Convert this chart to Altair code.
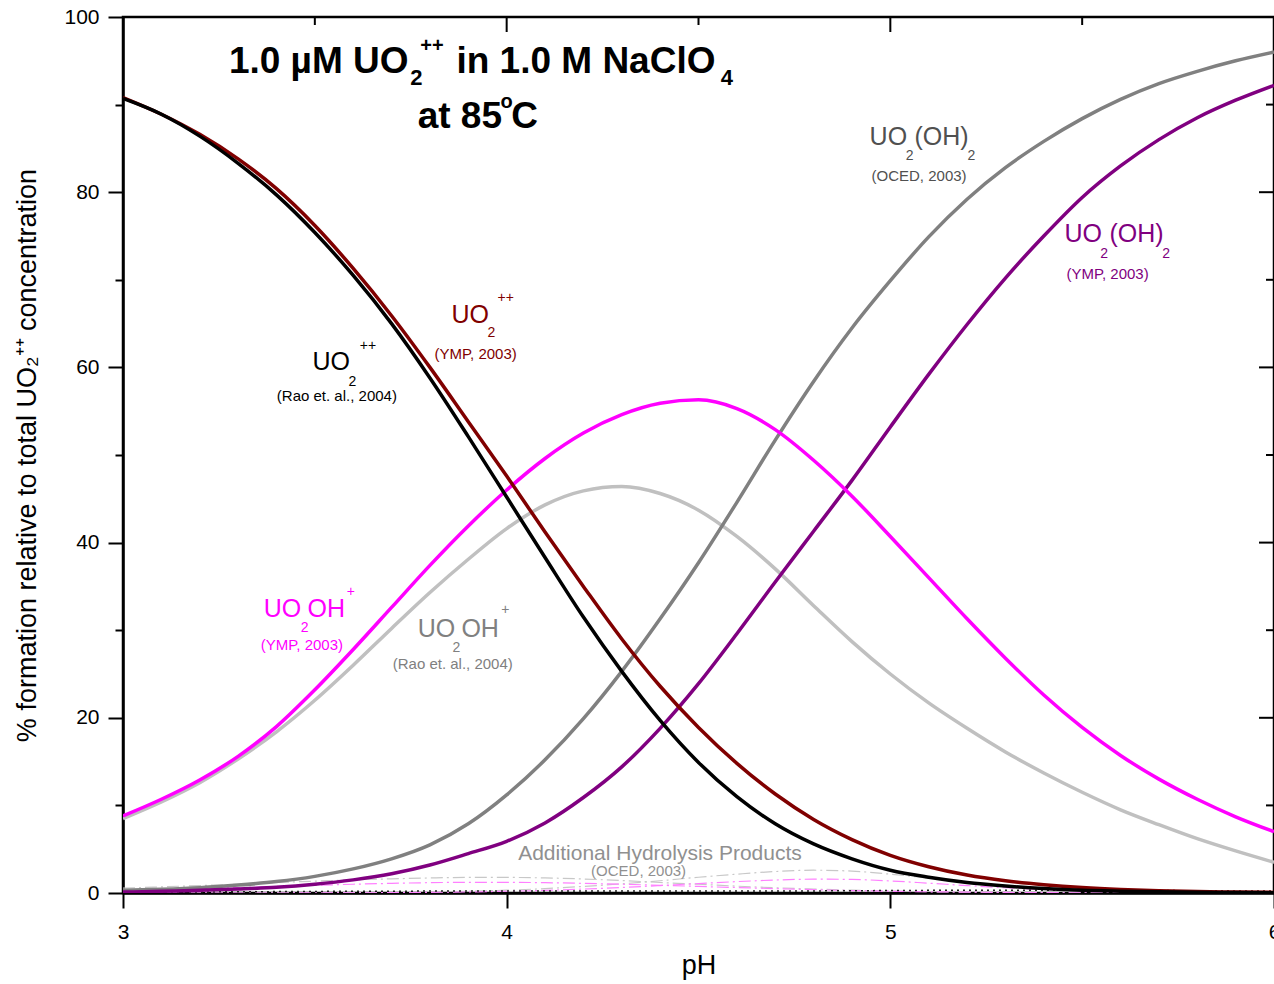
import altair as alt
import pandas as pd

# ---------------- data ----------------
ph = [3.0, 3.1, 3.2, 3.3, 3.4, 3.5, 3.6, 3.7, 3.8, 3.9, 4.0,
      4.1, 4.2, 4.3, 4.4, 4.5, 4.6, 4.7, 4.8, 4.9, 5.0,
      5.1, 5.2, 5.3, 5.4, 5.5, 5.6, 5.7, 5.8, 5.9, 6.0]

uo2_rao = [90.7, 88.9, 86.4, 83.3, 79.7, 75.4, 70.5, 65.0, 58.8, 52.1, 45.2,
           38.3, 31.5, 25.3, 19.7, 14.9, 11.0, 7.9, 5.6, 3.9, 2.6,
           1.8, 1.2, 0.8, 0.5, 0.3, 0.2, 0.13, 0.08, 0.05, 0.03]
uo2_ymp = [90.8, 88.9, 86.6, 83.8, 80.4, 76.2, 71.3, 65.9, 60.0, 53.8, 47.6,
           41.2, 35.0, 29.0, 23.6, 18.9, 14.8, 11.3, 8.4, 6.1, 4.3,
           3.0, 2.05, 1.4, 0.95, 0.62, 0.4, 0.26, 0.17, 0.11, 0.07]
uo2oh_ymp = [8.8, 10.7, 12.9, 15.6, 19.0, 23.2, 27.8, 32.6, 37.4, 41.9, 46.0,
             49.6, 52.5, 54.6, 55.9, 56.3, 55.3, 52.9, 49.4, 45.3, 40.7,
             36.0, 31.3, 26.8, 22.6, 18.9, 15.7, 13.0, 10.7, 8.7, 7.0]
uo2oh_rao = [8.5, 10.4, 12.6, 15.3, 18.4, 22.0, 26.0, 30.2, 34.3, 38.1, 41.6,
             44.3, 45.9, 46.4, 45.6, 43.7, 40.7, 37.0, 32.8, 28.7, 25.0,
             21.7, 18.8, 16.1, 13.7, 11.5, 9.5, 7.8, 6.2, 4.8, 3.5]
uo2oh2_oced = [0.3, 0.42, 0.6, 0.9, 1.3, 1.9, 2.75, 3.9, 5.5, 7.9, 11.2,
               15.2, 19.9, 25.3, 31.3, 37.7, 44.6, 51.7, 58.4, 64.5, 69.9,
               74.9, 79.2, 82.8, 85.8, 88.4, 90.6, 92.4, 93.8, 95.0, 96.0]
uo2oh2_ymp = [0.1, 0.2, 0.3, 0.45, 0.65, 1.0, 1.5, 2.2, 3.2, 4.5, 5.9,
              8.0, 10.9, 14.4, 18.8, 23.9, 29.6, 35.5, 41.3, 47.1, 53.2,
              59.2, 64.9, 70.2, 75.0, 79.4, 83.0, 86.0, 88.5, 90.5, 92.2]

# additional hydrolysis products (thin dash-dot curves)
add_gray_1 = [0.55, 0.7, 0.85, 1.0, 1.2, 1.35, 1.5, 1.62, 1.72, 1.78, 1.78,
              1.72, 1.6, 1.42, 1.2, 1.0, 0.78, 0.6, 0.45, 0.32, 0.22,
              0.15, 0.1, 0.06, 0.04, 0.02, 0.01, 0.01, 0.0, 0.0, 0.0]
add_gray_2 = [0.0, 0.0, 0.0, 0.0, 0.01, 0.02, 0.04, 0.07, 0.12, 0.2, 0.32,
              0.5, 0.75, 1.05, 1.4, 1.8, 2.15, 2.45, 2.6, 2.5, 2.15,
              1.7, 1.25, 0.85, 0.55, 0.35, 0.22, 0.13, 0.08, 0.05, 0.03]
add_pink_1 = [0.3, 0.4, 0.5, 0.62, 0.75, 0.88, 1.0, 1.1, 1.18, 1.22, 1.22,
              1.18, 1.1, 1.0, 0.88, 0.75, 0.62, 0.5, 0.38, 0.28, 0.2,
              0.14, 0.1, 0.06, 0.04, 0.02, 0.01, 0.0, 0.0, 0.0, 0.0]
add_pink_2 = [0.0, 0.0, 0.0, 0.0, 0.0, 0.01, 0.02, 0.04, 0.07, 0.12, 0.2,
              0.3, 0.45, 0.63, 0.85, 1.08, 1.3, 1.48, 1.58, 1.55, 1.38,
              1.12, 0.85, 0.6, 0.4, 0.26, 0.16, 0.1, 0.06, 0.04, 0.02]
add_black = [0.1, 0.1, 0.12, 0.14, 0.16, 0.18, 0.2, 0.2, 0.22, 0.22, 0.22,
             0.22, 0.22, 0.22, 0.22, 0.22, 0.22, 0.24, 0.24, 0.26, 0.28,
             0.3, 0.3, 0.3, 0.3, 0.3, 0.3, 0.28, 0.26, 0.24, 0.22]

main_names = ["UO2OH+ Rao", "UO2(OH)2 OCED", "UO2(OH)2 YMP", "UO2OH+ YMP",
              "UO2++ YMP", "UO2++ Rao"]
main_values = [uo2oh_rao, uo2oh2_oced, uo2oh2_ymp, uo2oh_ymp, uo2_ymp, uo2_rao]
main_colors = ["#c0c0c0", "#808080", "#800080", "#ff00ff", "#800000", "#000000"]

add_names = ["add gray 1", "add gray 2", "add pink 1", "add pink 2"]
add_values = [add_gray_1, add_gray_2, add_pink_1, add_pink_2]
add_colors = ["#c8c8c8", "#c8c8c8", "#ff80ff", "#ff80ff"]

x_ticks_major = [3, 4, 5, 6]
x_ticks_minor = [3.5, 4.5, 5.5]
y_ticks_major = [20, 40, 60, 80]
y_ticks_minor = [10, 30, 50, 70, 90]

# ---------------- tables ----------------
rows = []
for order, (n, vals) in enumerate(zip(main_names, main_values)):
    for p, v in zip(ph, vals):
        rows.append({"series": n, "pH": p, "pct": v, "order": order})
main_df = pd.DataFrame(rows)

rows = []
for n, vals in zip(add_names, add_values):
    for p, v in zip(ph, vals):
        rows.append({"series": n, "pH": p, "pct": v})
add_df = pd.DataFrame(rows)

black_df = pd.DataFrame({"pH": ph, "pct": add_black})

FONT = "Liberation Sans"
W, H = 1151, 876

x_scale = alt.Scale(domain=[3, 6], nice=False, zero=False)
y_scale = alt.Scale(domain=[0, 100], nice=False, zero=False)

x_axis = alt.Axis(
    values=[3, 3.5, 4, 4.5, 5, 5.5, 6], format="d",
    labelExpr="datum.value % 1 === 0 ? datum.label : ''",
    tickSize={"condition": {"test": "datum.value % 1 === 0", "value": 15}, "value": 8},
    tickWidth=2, tickColor="black", domainWidth=2.5, domainColor="black",
    labelFontSize=21, labelFont=FONT, labelColor="black", labelPadding=13,
    labelFlush=False, labelOverlap=False, grid=False, title="pH", titleFontSize=27,
    titleFont=FONT, titleFontWeight="normal", titleColor="black", titlePadding=10,
)
y_axis = alt.Axis(
    values=[0, 10, 20, 30, 40, 50, 60, 70, 80, 90, 100], format="d",
    labelExpr="datum.value % 20 === 0 ? datum.label : ''",
    tickSize={"condition": {"test": "datum.value % 20 === 0", "value": 15}, "value": 8},
    tickWidth=2, tickColor="black", domainWidth=2.5, domainColor="black",
    labelFontSize=21, labelFont=FONT, labelColor="black", labelPadding=9,
    labelFlush=False, labelOverlap=False, grid=False,
    title="% formation relative to total UO\u2082\u207a\u207a concentration",
    titleFontSize=27, titleFont=FONT, titleFontWeight="normal", titleColor="black",
    titlePadding=22,
)

lines = alt.Chart(main_df).mark_line(strokeWidth=3.5, interpolate="monotone", clip=True).encode(
    x=alt.X("pH:Q", scale=x_scale, axis=x_axis),
    y=alt.Y("pct:Q", scale=y_scale, axis=y_axis),
    color=alt.Color("series:N", scale=alt.Scale(domain=main_names, range=main_colors), legend=None),
    order=alt.Order("order:Q"),
    detail="series:N",
)

adds = alt.Chart(add_df).mark_line(strokeWidth=1.2, strokeDash=[12, 4, 2, 4],
                                   interpolate="monotone", clip=True).encode(
    x=alt.X("pH:Q", scale=x_scale),
    y=alt.Y("pct:Q", scale=y_scale),
    color=alt.Color("series:N", scale=alt.Scale(domain=add_names, range=add_colors), legend=None),
    detail="series:N",
)

black_dots = alt.Chart(black_df).mark_line(
    strokeWidth=1.5, strokeDash=[2, 4], color="#222222", interpolate="monotone", clip=True
).encode(
    x=alt.X("pH:Q", scale=x_scale),
    y=alt.Y("pct:Q", scale=y_scale),
)

# inward ticks on top and right frame
top_major = alt.Chart(pd.DataFrame({"v": x_ticks_major})).mark_rule(color="black", strokeWidth=2).encode(
    x=alt.X("v:Q", scale=x_scale), y=alt.value(0), y2=alt.value(15))
top_minor = alt.Chart(pd.DataFrame({"v": x_ticks_minor})).mark_rule(color="black", strokeWidth=2).encode(
    x=alt.X("v:Q", scale=x_scale), y=alt.value(0), y2=alt.value(8))
right_major = alt.Chart(pd.DataFrame({"v": y_ticks_major})).mark_rule(color="black", strokeWidth=2).encode(
    y=alt.Y("v:Q", scale=y_scale), x=alt.value(W - 15), x2=alt.value(W))
right_minor = alt.Chart(pd.DataFrame({"v": y_ticks_minor})).mark_rule(color="black", strokeWidth=2).encode(
    y=alt.Y("v:Q", scale=y_scale), x=alt.value(W - 8), x2=alt.value(W))

# ---------------- text annotations ----------------
title_parts = pd.DataFrame([
    {"t": "1.0 \u00b5M UO", "pH": 3.276, "pct": 93.6, "s": 37},
    {"t": "2", "pH": 3.749, "pct": 92.2, "s": 22},
    {"t": "++", "pH": 3.775, "pct": 96.0, "s": 20},
    {"t": "in 1.0 M NaClO", "pH": 3.869, "pct": 93.6, "s": 37},
    {"t": "4", "pH": 4.558, "pct": 92.2, "s": 22},
    {"t": "at 85", "pH": 3.768, "pct": 87.33, "s": 37},
    {"t": "o", "pH": 3.984, "pct": 89.6, "s": 20},
    {"t": "C", "pH": 4.012, "pct": 87.33, "s": 37},
])

labels = pd.DataFrame([
    # UO2++ Rao (black)
    {"t": "UO", "pH": 3.494, "pct": 59.7, "s": 25, "c": "#000000"},
    {"t": "2", "pH": 3.588, "pct": 57.9, "s": 14, "c": "#000000"},
    {"t": "++", "pH": 3.617, "pct": 62.0, "s": 14, "c": "#000000"},
    {"t": "(Rao et. al., 2004)", "pH": 3.401, "pct": 56.2, "s": 15, "c": "#000000"},
    # UO2++ YMP (dark red)
    {"t": "UO", "pH": 3.856, "pct": 65.1, "s": 25, "c": "#800000"},
    {"t": "2", "pH": 3.950, "pct": 63.5, "s": 14, "c": "#800000"},
    {"t": "++", "pH": 3.976, "pct": 67.5, "s": 14, "c": "#800000"},
    {"t": "(YMP, 2003)", "pH": 3.812, "pct": 60.96, "s": 15, "c": "#800000"},
    # UO2OH+ YMP (magenta)
    {"t": "UO", "pH": 3.367, "pct": 31.5, "s": 25, "c": "#ff00ff"},
    {"t": "2", "pH": 3.463, "pct": 29.8, "s": 14, "c": "#ff00ff"},
    {"t": "OH", "pH": 3.481, "pct": 31.5, "s": 25, "c": "#ff00ff"},
    {"t": "+", "pH": 3.583, "pct": 33.96, "s": 14, "c": "#ff00ff"},
    {"t": "(YMP, 2003)", "pH": 3.359, "pct": 27.7, "s": 15, "c": "#ff00ff"},
    # UO2OH+ Rao (grey)
    {"t": "UO", "pH": 3.768, "pct": 29.2, "s": 25, "c": "#808080"},
    {"t": "2", "pH": 3.859, "pct": 27.5, "s": 14, "c": "#808080"},
    {"t": "OH", "pH": 3.882, "pct": 29.2, "s": 25, "c": "#808080"},
    {"t": "+", "pH": 3.986, "pct": 31.8, "s": 14, "c": "#808080"},
    {"t": "(Rao et. al., 2004)", "pH": 3.703, "pct": 25.6, "s": 15, "c": "#808080"},
    # UO2(OH)2 OCED (dark grey)
    {"t": "UO", "pH": 4.946, "pct": 85.4, "s": 25, "c": "#505050"},
    {"t": "2", "pH": 5.040, "pct": 83.7, "s": 14, "c": "#505050"},
    {"t": "(OH)", "pH": 5.063, "pct": 85.4, "s": 25, "c": "#505050"},
    {"t": "2", "pH": 5.201, "pct": 83.7, "s": 14, "c": "#505050"},
    {"t": "(OCED, 2003)", "pH": 4.951, "pct": 81.3, "s": 15, "c": "#505050"},
    # UO2(OH)2 YMP (purple)
    {"t": "UO", "pH": 5.454, "pct": 74.3, "s": 25, "c": "#800080"},
    {"t": "2", "pH": 5.547, "pct": 72.5, "s": 14, "c": "#800080"},
    {"t": "(OH)", "pH": 5.571, "pct": 74.3, "s": 25, "c": "#800080"},
    {"t": "2", "pH": 5.709, "pct": 72.5, "s": 14, "c": "#800080"},
    {"t": "(YMP, 2003)", "pH": 5.459, "pct": 70.1, "s": 15, "c": "#800080"},
    # additional products
    {"t": "Additional Hydrolysis Products", "pH": 4.030, "pct": 3.77, "s": 21, "c": "#909090"},
    {"t": "(OCED, 2003)", "pH": 4.220, "pct": 1.94, "s": 15, "c": "#909090"},
])

title_text = alt.Chart(title_parts).mark_text(
    align="left", baseline="alphabetic", font=FONT, fontWeight="bold", color="black"
).encode(
    x=alt.X("pH:Q", scale=x_scale), y=alt.Y("pct:Q", scale=y_scale),
    text="t:N", size=alt.Size("s:Q", scale=None, legend=None),
)

label_text = alt.Chart(labels).mark_text(
    align="left", baseline="alphabetic", font=FONT, fontWeight="normal"
).encode(
    x=alt.X("pH:Q", scale=x_scale), y=alt.Y("pct:Q", scale=y_scale),
    text="t:N", size=alt.Size("s:Q", scale=None, legend=None),
    color=alt.Color("c:N", scale=None, legend=None),
)

chart = alt.layer(
    adds, black_dots, lines, top_major, top_minor, right_major, right_minor, title_text, label_text
).resolve_scale(color="independent", size="independent").properties(
    width=W, height=H,
    autosize=alt.AutoSizeParams(type="none"),
    padding={"left": 123, "top": 17, "right": 0, "bottom": 91},
    background="white",
).configure_view(stroke="black", strokeWidth=2.5)

chart.save("out.html", embed_options={"renderer": "svg", "actions": False})
